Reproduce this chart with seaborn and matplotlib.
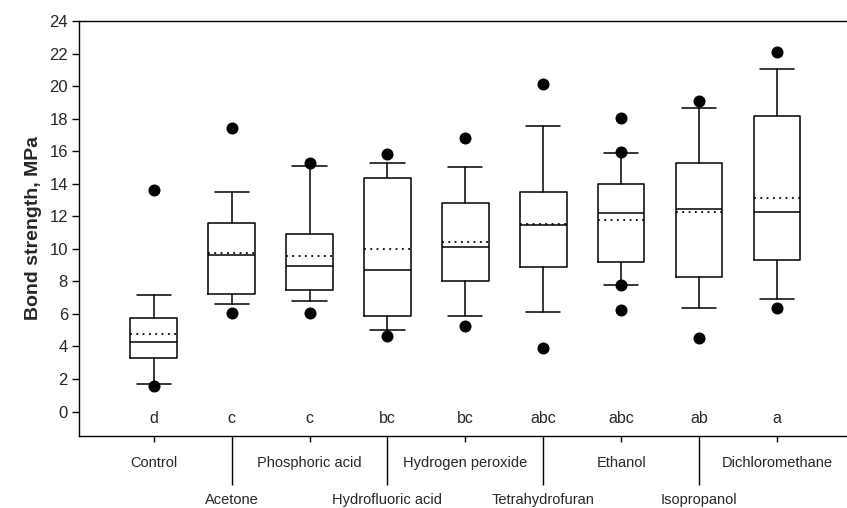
import matplotlib
matplotlib.use("Agg")
import matplotlib.pyplot as plt
import numpy as np
import pandas as pd
import seaborn as sns

# values (MPa)
categories = ["Control", "Acetone", "Phosphoric acid", "Hydrofluoric acid", "Hydrogen peroxide",
              "Tetrahydrofuran", "Ethanol", "Isopropanol", "Dichloromethane"]
letters = ["d", "c", "c", "bc", "bc", "abc", "abc", "ab", "a"]
q1 = [3.30, 7.24, 7.49, 5.89, 8.00, 8.89, 9.17, 8.29, 9.34]
medians = [4.25, 9.65, 8.92, 8.72, 10.12, 11.48, 12.21, 12.47, 12.27]
q3 = [5.78, 11.59, 10.94, 14.36, 12.82, 13.50, 14.01, 15.26, 18.18]
means = [4.76, 9.72, 9.58, 9.99, 10.40, 11.52, 11.75, 12.29, 13.15]
whisker_low = [1.69, 6.61, 6.79, 5.03, 5.87, 6.15, 7.78, 6.38, 6.89]
whisker_high = [7.14, 13.48, 15.08, 15.29, 15.02, 17.54, 15.86, 18.65, 21.03]
outliers = [[13.6, 1.58], [17.44, 6.06], [15.29, 6.06], [15.84, 4.66], [16.84, 5.27],
            [20.15, 3.90], [18.01, 15.94, 7.75, 6.22], [19.06, 4.55], [22.09, 6.38]]

sns.set_style("ticks")
plt.rcParams['font.family'] = ['Liberation Sans', 'DejaVu Sans']

fig = plt.figure(figsize=(8.47, 5.08), dpi=100)
ax = fig.add_axes([0.0933, 0.1417, 0.9067, 0.8170])

positions = np.arange(1, len(categories) + 1)
stats = []
for c, a, m, b, mu, lo, hi in zip(categories, q1, medians, q3, means, whisker_low, whisker_high):
    stats.append(dict(label=c, q1=a, med=m, q3=b, mean=mu, whislo=lo, whishi=hi, fliers=[]))

line = dict(color='black', linewidth=1.1)
ax.bxp(stats, positions=positions, widths=0.6, capwidths=0.44, showmeans=True, meanline=True,
       showfliers=False, boxprops=line, medianprops=line, whiskerprops=line, capprops=line,
       meanprops=dict(color='black', linestyle=(0, (1, 2.5)), linewidth=1.3))

out_df = pd.DataFrame({
    'pos': [p for p, vals in zip(positions, outliers) for _ in vals],
    'value': [v for vals in outliers for v in vals],
})
sns.scatterplot(data=out_df, x='pos', y='value', color='black', edgecolor='black', s=75,
                linewidth=0, ax=ax, zorder=3)

for p, letter in zip(positions, letters):
    ax.text(p, -0.4, letter, ha='center', va='center', fontsize=11.5)

ax.set_xlim(0.04, 9.9)
ax.set_ylim(-1.5, 24)
ax.set_yticks(range(0, 25, 2))
ax.set_xticks(positions[::2], categories[::2])
ax.set_xticks(positions[1::2], categories[1::2], minor=True)
ax.tick_params(axis='x', which='major', length=4.5, width=1, pad=10, labelsize=10.5, color='black')
ax.tick_params(axis='x', which='minor', length=35, width=1, pad=6, labelsize=10.5, color='black')
ax.tick_params(axis='y', length=5, width=1, pad=3, labelsize=12, color='black')

ax.set_xlabel('')
ax.set_ylabel('Bond strength, MPa', fontsize=14, fontweight='bold', labelpad=5)
for side in ['left', 'bottom', 'top']:
    ax.spines[side].set_linewidth(1)
    ax.spines[side].set_color('black')
ax.spines['right'].set_visible(False)

fig.savefig('out.png', dpi=100)
